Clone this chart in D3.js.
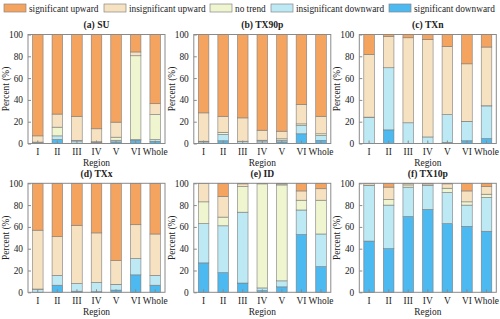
<!DOCTYPE html>
<html><head><meta charset="utf-8">
<script src="https://cdn.jsdelivr.net/npm/d3@7"></script>
<style>body{margin:0;background:#fff}svg{display:block}text{font-family:"Liberation Serif","Times New Roman",serif}</style>
</head><body><svg id="c" width="500" height="319"></svg>
<script>
const regions = ["I","II","III","IV","V","VI","Whole"];
const panels = ["(a) SU","(b) TX90p","(c) TXn","(d) TXx","(e) ID","(f) TX10p"];
const seriesNames = ["significant downward","insignificant downward","no trend","insignificant upward","significant upward"];
const legendOrder = ["significant upward","insignificant upward","no trend","insignificant downward","significant downward"];
const colors = ["#4CB9F0","#BDE9F5","#EEF5CF","#F6E2C1","#F5A460"];
const yTicks = [0,20,40,60,80,100];

// values (%) per panel, per region
const sigDown = [
  [0.3,3.7,0.3,0.5,1.5,3.0,2.0],
  [0.3,2.5,0.3,0.5,1.5,8.9,2.8],
  [0,12.5,0,0,1.0,2.5,4.5],
  [0,6.5,1.0,0.5,2.0,16.0,6.5],
  [27.0,18.0,8.5,1.5,5.0,53.0,23.5],
  [47.0,40.0,69.5,76.0,63.0,60.5,56.0]
];
const insigDown = [
  [0.7,3.3,2.0,0.8,1.5,0.5,1.5],
  [1.2,5.8,1.5,1.8,1.5,7.6,4.5],
  [24.0,57.0,19.0,6.0,25.5,17.5,30.0],
  [2.5,9.0,7.0,8.5,5.0,15.0,9.0],
  [36.0,43.0,65.0,2.5,5.5,22.5,30.0],
  [51.0,40.0,27.0,22.0,28.5,19.5,31.0]
];
const noTrend = [
  [0.3,8.0,0.5,0.3,2.8,77.0,23.0],
  [0.6,2.0,0.3,0.7,1.3,1.5,1.6],
  [0.2,0,0,0,0,0.2,0.1],
  [0.5,0,0,0,0.3,0,0],
  [20.0,8.0,23.5,95.5,88.0,9.0,31.0],
  [0.3,5.0,2.0,0.5,4.0,3.0,3.0]
];
const insigUp = [
  [5.7,12.0,22.2,11.9,13.8,3.5,10.0],
  [26.0,14.7,21.4,9.2,7.0,17.8,16.1],
  [57.5,28.5,78.0,89.5,62.5,52.9,53.9],
  [54.0,35.5,53.5,45.5,21.7,31.0,38.0],
  [17.0,19.0,2.5,0.3,1.0,8.5,10.5],
  [1.7,11.5,1.2,1.3,4.0,10.0,7.0]
];
const sigUp = [
  [93.0,73.0,75.0,86.5,80.4,16.0,63.5],
  [71.9,75.0,76.5,87.8,88.7,64.2,75.0],
  [18.3,2.0,3.0,4.5,11.0,26.9,11.5],
  [43.0,49.0,38.5,45.5,71.0,38.0,46.5],
  [0,12.0,0.5,0.2,0.5,7.0,5.0],
  [0,3.5,0.3,0.2,0.5,7.0,3.0]
];
const allSeries = [sigDown, insigDown, noTrend, insigUp, sigUp];

const svg = d3.select("#c");
const FS = 9.4;
const colX = [28, 193.8, 359.3];
const rowY = [34.5, 183.3];
const W = 137, H = 109;

// legend
const legX = [4, 104, 210, 271, 389];
legendOrder.forEach((name, i) => {
  const idx = seriesNames.indexOf(name);
  const g = svg.append("g").attr("transform", `translate(${legX[i]},4)`);
  g.append("rect").attr("width", 22).attr("height", 8).attr("fill", colors[idx]).attr("stroke", "#888").attr("stroke-width", 0.7);
  g.append("text").attr("x", 25).attr("y", 7.5).attr("font-size", 9.3).attr("fill", "#222").text(name);
});

panels.forEach((title, p) => {
  const x0 = colX[p % 3], y0 = rowY[Math.floor(p / 3)];
  const g = svg.append("g").attr("transform", `translate(${x0},${y0})`);
  const x = d3.scaleBand().domain(regions).range([0, W]).paddingInner(0.46).paddingOuter(0.23);
  const y = d3.scaleLinear().domain([0, 100]).range([H, 0]);

  const rows = regions.map((r, i) => {
    const o = {region: r};
    seriesNames.forEach((s, k) => o[s] = allSeries[k][p][i]);
    return o;
  });
  const stacked = d3.stack().keys(seriesNames)(rows);
  stacked.forEach((layer, k) => {
    g.selectAll(null).data(layer).enter().append("rect")
      .attr("x", d => x(d.data.region))
      .attr("width", x.bandwidth())
      .attr("y", d => y(d[1]))
      .attr("height", d => Math.max(0, y(d[0]) - y(d[1])))
      .attr("fill", colors[k])
      .attr("stroke", "#7d7d7d").attr("stroke-width", 0.6);
  });

  // frame
  g.append("rect").attr("width", W).attr("height", H).attr("fill", "none").attr("stroke", "#8a8a8a").attr("stroke-width", 1);

  const ya = d3.axisLeft(y).tickValues(yTicks).tickSize(-3).tickPadding(5);
  const yg = g.append("g").call(ya);
  yg.select(".domain").remove();
  yg.selectAll("line").attr("stroke", "#8a8a8a");
  yg.selectAll("text").attr("font-size", FS).attr("font-family", "Liberation Serif").attr("fill", "#222");

  const xa = d3.axisBottom(x).tickSize(-3).tickPadding(5);
  const xg = g.append("g").attr("transform", `translate(0,${H})`).call(xa);
  xg.select(".domain").remove();
  xg.selectAll("line").attr("stroke", "#8a8a8a");
  xg.selectAll("text").attr("font-size", FS).attr("font-family", "Liberation Serif").attr("fill", "#222");

  g.append("text").attr("x", W / 2).attr("y", -6.5).attr("text-anchor", "middle")
    .attr("font-size", 9.6).attr("font-weight", "bold").attr("fill", "#222").text(title);
  g.append("text").attr("x", W / 2).attr("y", H + 22.5).attr("text-anchor", "middle")
    .attr("font-size", FS).attr("fill", "#222").text("Region");
  g.append("text").attr("transform", `translate(${-19},${H / 2}) rotate(-90)`).attr("text-anchor", "middle")
    .attr("font-size", FS).attr("fill", "#222").text("Percent (%)");
});
</script></body></html>
